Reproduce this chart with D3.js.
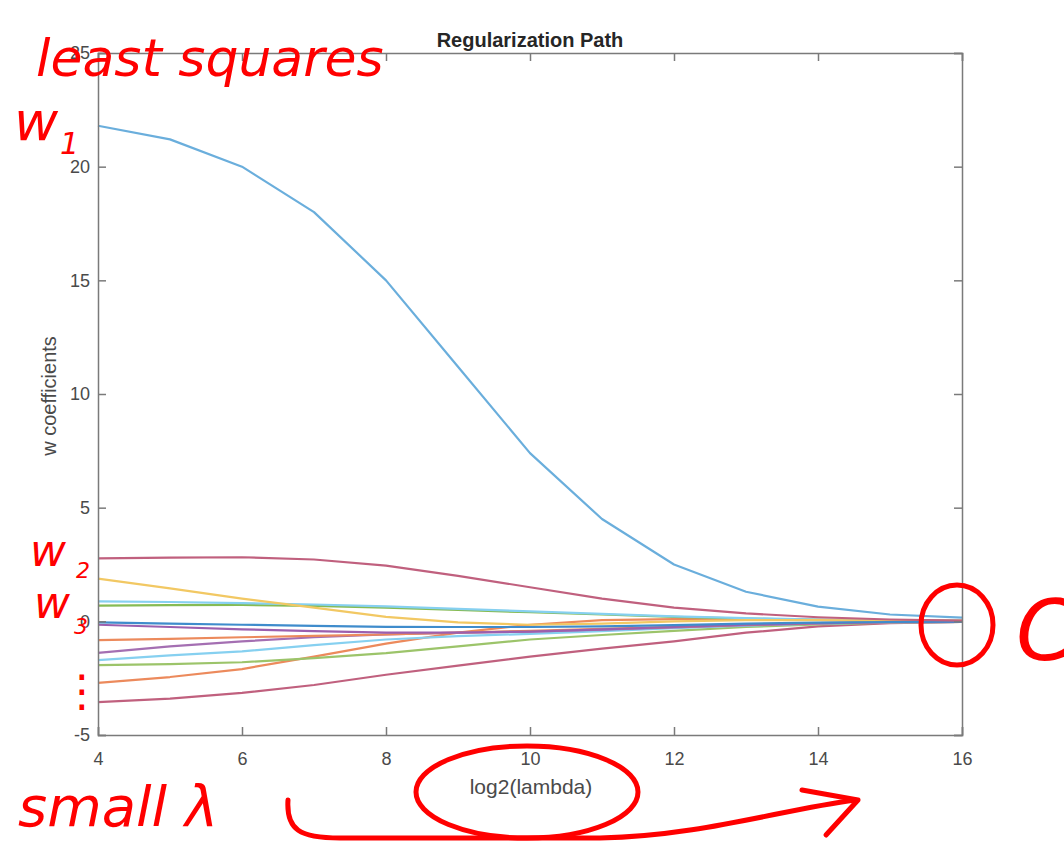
<!DOCTYPE html>
<html>
<head>
<meta charset="utf-8">
<script src="https://cdn.jsdelivr.net/npm/d3@7"></script>
<style>
  body { margin: 0; background: #fff; }
  svg { display: block; }
  .axis text { font-family: "Liberation Sans", Arial, sans-serif; font-size: 18px; fill: #4a4a4a; }
  .axis path, .axis line { stroke: #7a7a7a; stroke-width: 1.5px; }
  .ink { fill: none; stroke: #ff0000; stroke-width: 5px; stroke-linecap: round; stroke-linejoin: round; }
  .hand { fill: #ff0000; font-family: "DejaVu Sans", sans-serif; font-style: italic; }
</style>
</head>
<body>
<svg id="chart"></svg>
<script>
var width = 1064, height = 842;
var margin = {top: 53, right: 102, bottom: 107, left: 98};

// log2(lambda) sample points
var lambdas = [4, 5, 6, 7, 8, 9, 10, 11, 12, 13, 14, 15, 16];
var xTicks = [4, 6, 8, 10, 12, 14, 16];
var yTicks = [-5, 0, 5, 10, 15, 20, 25];

// one coefficient path per colour
var w1      = [21.8, 21.2, 20.0, 18.0, 15.0, 11.2, 7.4, 4.5, 2.5, 1.3, 0.65, 0.3, 0.16];
var wMaroon = [2.77, 2.8, 2.82, 2.72, 2.45, 2.0, 1.5, 1.0, 0.6, 0.35, 0.18, 0.08, 0.03];
var wYellow = [1.88, 1.45, 1.0, 0.6, 0.2, -0.05, -0.15, -0.1, 0.0, 0.05, 0.05, 0.03, 0.02];
var wCyan   = [0.88, 0.85, 0.8, 0.74, 0.66, 0.55, 0.44, 0.33, 0.22, 0.14, 0.08, 0.04, 0.02];
var wGreen  = [0.69, 0.71, 0.72, 0.68, 0.6, 0.5, 0.4, 0.3, 0.2, 0.12, 0.07, 0.04, 0.02];
var wBlue   = [-0.05, -0.1, -0.15, -0.2, -0.24, -0.25, -0.25, -0.22, -0.17, -0.1, -0.06, -0.03, -0.01];
var wPurple = [-0.15, -0.25, -0.35, -0.43, -0.5, -0.5, -0.45, -0.35, -0.25, -0.15, -0.08, -0.04, -0.02];
var wOrange = [-0.83, -0.77, -0.7, -0.64, -0.58, -0.5, -0.42, -0.33, -0.24, -0.15, -0.08, -0.04, -0.02];
var wPurple2 = [-1.39, -1.1, -0.88, -0.7, -0.58, -0.5, -0.45, -0.37, -0.27, -0.17, -0.09, -0.04, -0.02];
var wCyan2  = [-1.71, -1.5, -1.32, -1.05, -0.8, -0.65, -0.55, -0.43, -0.3, -0.19, -0.1, -0.05, -0.02];
var wGreen2 = [-1.93, -1.88, -1.8, -1.62, -1.4, -1.1, -0.8, -0.6, -0.42, -0.25, -0.13, -0.06, -0.03];
var wOrange2 = [-2.71, -2.45, -2.1, -1.55, -0.98, -0.5, -0.15, 0.05, 0.1, 0.1, 0.07, 0.04, 0.02];
var wMaroon2 = [-3.55, -3.4, -3.15, -2.8, -2.35, -1.95, -1.55, -1.2, -0.88, -0.5, -0.22, -0.08, -0.02];

var series = [
  {values: wMaroon2, color: "#c0607e"},
  {values: wOrange2, color: "#ec8a5c"},
  {values: wGreen2,  color: "#9cc46a"},
  {values: wCyan2,   color: "#86d0f0"},
  {values: wPurple2, color: "#a46fb2"},
  {values: wOrange,  color: "#ec8a5c"},
  {values: wPurple,  color: "#9b5fae"},
  {values: wGreen,   color: "#86bb54"},
  {values: wCyan,    color: "#86d0f0"},
  {values: wYellow,  color: "#f2c863"},
  {values: wBlue,    color: "#3f8ccc"},
  {values: wMaroon,  color: "#c0607e"},
  {values: w1,       color: "#6aaedc"}
];

var svg = d3.select("#chart").attr("width", width).attr("height", height);
var iw = width - margin.left - margin.right,
    ih = height - margin.top - margin.bottom;
var g = svg.append("g").attr("transform", "translate(" + margin.left + "," + margin.top + ")");

var x = d3.scaleLinear().domain([4, 16]).range([0, iw]);
var y = d3.scaleLinear().domain([-5, 25]).range([ih, 0]);

var line = d3.line()
    .x(function(d, i) { return x(lambdas[i]); })
    .y(function(d) { return y(d); });

g.selectAll(".path")
  .data(series)
  .enter().append("path")
    .attr("class", "path")
    .attr("d", function(d) { return line(d.values); })
    .attr("fill", "none")
    .attr("stroke", function(d) { return d.color; })
    .attr("stroke-width", 2.2)
    .attr("stroke-linejoin", "round");

var fmt = function(d) { return String(d); };  // plain hyphen minus like the original

// axes, MATLAB style box with inward ticks
g.append("g").attr("class", "axis")
    .attr("transform", "translate(0," + ih + ")")
    .call(d3.axisBottom(x).tickValues(xTicks).tickSize(-8).tickPadding(17).tickFormat(fmt));
g.append("g").attr("class", "axis")
    .call(d3.axisTop(x).tickValues(xTicks).tickSize(-8).tickFormat(""));
g.append("g").attr("class", "axis")
    .call(d3.axisLeft(y).tickValues(yTicks).tickSize(-8).tickPadding(8).tickFormat(fmt));
g.append("g").attr("class", "axis")
    .attr("transform", "translate(" + iw + ",0)")
    .call(d3.axisRight(y).tickValues(yTicks).tickSize(-8).tickFormat(""));
g.selectAll(".axis .domain").attr("stroke-width", 2);

svg.append("text")
    .attr("x", margin.left + iw / 2).attr("y", 47)
    .attr("text-anchor", "middle")
    .style("font", "bold 20px 'Liberation Sans', Arial, sans-serif")
    .style("fill", "#262626")
    .text("Regularization Path");

svg.append("text")
    .attr("x", 531).attr("y", 794)
    .attr("text-anchor", "middle")
    .style("font", "21px 'Liberation Sans', Arial, sans-serif")
    .style("fill", "#4a4a4a")
    .text("log2(lambda)");

svg.append("text")
    .attr("transform", "translate(56,396) rotate(-90)")
    .attr("text-anchor", "middle")
    .style("font", "20px 'Liberation Sans', Arial, sans-serif")
    .style("fill", "#4a4a4a")
    .text("w coefficients");

// red pen annotations
var ann = svg.append("g");
ann.append("text").attr("class", "hand").attr("x", 36).attr("y", 76)
    .style("font-size", "52px").text("least squares");
ann.append("text").attr("class", "hand").attr("x", 14).attr("y", 140)
    .style("font-size", "54px").text("w");
ann.append("text").attr("class", "hand").attr("x", 60).attr("y", 154)
    .style("font-size", "30px").text("1");
ann.append("text").attr("class", "hand").attr("x", 30).attr("y", 566)
    .style("font-size", "44px").text("w");
ann.append("text").attr("class", "hand").attr("x", 76).attr("y", 578)
    .style("font-size", "22px").text("2");
ann.append("text").attr("class", "hand").attr("x", 34).attr("y", 618)
    .style("font-size", "44px").text("w");
ann.append("text").attr("class", "hand").attr("x", 74).attr("y", 634)
    .style("font-size", "22px").text("3");
ann.append("text").attr("class", "hand").attr("x", 60).attr("y", 706)
    .style("font-size", "44px").text("⋮");
ann.append("text").attr("class", "hand").attr("x", 18).attr("y", 826)
    .style("font-size", "56px").text("small λ");
ann.append("text").attr("class", "hand").attr("x", 1016).attr("y", 660)
    .style("font-size", "84px").text("C");

ann.append("ellipse").attr("class", "ink")
    .attr("cx", 527).attr("cy", 792).attr("rx", 111).attr("ry", 46);
ann.append("ellipse").attr("class", "ink")
    .attr("cx", 957).attr("cy", 625).attr("rx", 36).attr("ry", 40);
ann.append("path").attr("class", "ink")
    .attr("d", "M288,800 C286,830 300,838 340,838 L600,838 C700,836 780,810 855,800");
ann.append("path").attr("class", "ink")
    .attr("d", "M802,790 L858,800 L826,835");
</script>
</body>
</html>
